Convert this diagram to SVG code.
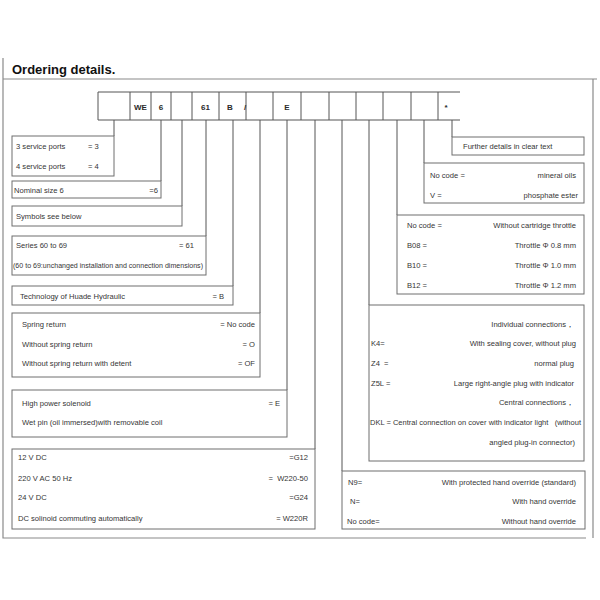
<svg xmlns="http://www.w3.org/2000/svg" width="600" height="600" viewBox="0 0 600 600">
<style>
.bg{fill:#ffffff}
.frame{fill:none;stroke:#8a8a8a;stroke-width:1.2}
.box{fill:#ffffff;stroke:#6e6e6e;stroke-width:1}
.ln{stroke:#555555;stroke-width:1;fill:none}
.t{font-family:"Liberation Sans",Arial,sans-serif;font-size:7.6px;fill:#353535}
.e{text-anchor:end}
.c{font-family:"Liberation Sans",Arial,sans-serif;font-size:8px;fill:#2a2a2a;text-anchor:middle;font-weight:bold}
.title{font-family:"Liberation Sans",Arial,sans-serif;font-size:13px;font-weight:bold;fill:#111111}
</style>
<rect class="bg" x="0" y="0" width="600" height="600"/>
<g id="frame">
<path class="frame" d="M3,58 V538 H586 M3,79 H597 M593,79 V538"/>
<text class="title" x="12" y="74">Ordering details.</text>
</g>
<g id="code-row">
<path class="ln" d="M98,92 H460 M98,120 H460 M98,92 V120 M130,92 V120 M151,92 V120 M171,92 V120 M192,92 V120 M219,92 V120 M246,92 V120 M273,92 V120 M301,92 V120 M329,92 V120 M356,92 V120 M383,92 V120 M411,92 V120 M438,92 V120"/>
<text class="c" x="140.5" y="110">WE</text>
<text class="c" x="161" y="110">6</text>
<text class="c" x="205.5" y="110">61</text>
<text class="c" x="230" y="110">B</text>
<text class="c" x="245" y="110" font-weight="normal">/</text>
<text class="c" x="287" y="110">E</text>
<text class="c" x="446" y="110" font-weight="normal">*</text>
</g>
<g id="connectors">
<path class="ln" d="M114,120 V136 M161,120 V181 M182,120 V206 M206,120 V236 M233,120 V286 M260,120 V313 M287,120 V390 M315,120 V449 M342,120 V471 M369,120 V305 M397,120 V215 M424,120 V163 M452,120 V137"/>
</g>
<g id="ports">
<rect class="box" x="12" y="136" width="102" height="40"/>
<text class="t" x="16" y="149">3 service ports</text><text class="t" x="88" y="149">= 3</text>
<text class="t" x="16" y="169">4 service ports</text><text class="t" x="88" y="169">= 4</text>
</g>
<g id="size">
<rect class="box" x="12" y="181" width="149" height="17"/>
<text class="t" x="14" y="192.5">Nominal size 6</text><text class="t e" x="158" y="192.5">=6</text>
</g>
<g id="symbols">
<rect class="box" x="12" y="206" width="170" height="20"/>
<text class="t" x="16" y="219">Symbols see below</text>
</g>
<g id="series">
<rect class="box" x="12" y="236" width="194" height="39"/>
<text class="t" x="16" y="248">Series 60 to 69</text><text class="t e" x="194" y="248">= 61</text>
<text class="t" x="13" y="268" textLength="190" lengthAdjust="spacingAndGlyphs">(60 to 69:unchanged installation and connection dimensions)</text>
</g>
<g id="technology">
<rect class="box" x="12" y="286" width="221" height="19"/>
<text class="t" x="20" y="298.5">Technology of Huade Hydraulic</text><text class="t e" x="224" y="298.5">= B</text>
</g>
<g id="spring">
<rect class="box" x="12" y="313" width="248" height="64"/>
<text class="t" x="22" y="327">Spring return</text><text class="t e" x="255" y="327">= No code</text>
<text class="t" x="22" y="347">Without spring return</text><text class="t e" x="255" y="347">= O</text>
<text class="t" x="22" y="366">Without spring return with detent</text><text class="t e" x="255" y="366">= OF</text>
</g>
<g id="solenoid">
<rect class="box" x="12" y="390" width="275" height="47"/>
<text class="t" x="22" y="406">High power solenoid</text><text class="t e" x="280" y="406">= E</text>
<text class="t" x="22" y="425">Wet pin (oil immersed)with removable coil</text>
</g>
<g id="voltage">
<rect class="box" x="12" y="449" width="303" height="80"/>
<text class="t" x="18" y="460">12 V DC</text><text class="t e" x="308" y="460">=G12</text>
<text class="t" x="18" y="481">220 V AC 50 Hz</text><text class="t e" x="308" y="481" xml:space="preserve">=  W220-50</text>
<text class="t" x="18" y="500">24 V DC</text><text class="t e" x="308" y="500">=G24</text>
<text class="t" x="18" y="521">DC solinoid commuting automatically</text><text class="t e" x="308" y="521">= W220R</text>
</g>
<g id="further">
<rect class="box" x="452" y="137" width="132" height="18"/>
<text class="t" x="463" y="149">Further details in clear text</text>
</g>
<g id="fluid">
<rect class="box" x="424" y="163" width="160" height="40"/>
<text class="t" x="430" y="178">No code =</text><text class="t e" x="576" y="178">mineral oils</text>
<text class="t" x="430" y="198">V =</text><text class="t e" x="578" y="198">phosphate ester</text>
</g>
<g id="throttle">
<rect class="box" x="397" y="215" width="187" height="79"/>
<text class="t" x="407" y="228">No code =</text><text class="t e" x="576" y="228">Without cartridge throttle</text>
<text class="t" x="407" y="248">B08 =</text><text class="t e" x="576" y="248">Throttle Φ 0.8 mm</text>
<text class="t" x="407" y="268">B10 =</text><text class="t e" x="576" y="268">Throttle Φ 1.0 mm</text>
<text class="t" x="407" y="288">B12 =</text><text class="t e" x="576" y="288">Throttle Φ 1.2 mm</text>
</g>
<g id="connections">
<rect class="box" x="369" y="305" width="215" height="156"/>
<text class="t e" x="574" y="327">Individual connections，</text>
<text class="t" x="371" y="346">K4=</text><text class="t e" x="576" y="346">With sealing cover, without plug</text>
<text class="t" x="371" y="366" xml:space="preserve">Z4  =</text><text class="t e" x="574" y="366">normal plug</text>
<text class="t" x="371" y="386">Z5L =</text><text class="t e" x="574" y="386">Large right-angle plug with indicator</text>
<text class="t e" x="574" y="405">Central connections，</text>
<text class="t" x="370" y="425" textLength="211" lengthAdjust="spacingAndGlyphs" xml:space="preserve">DKL = Central connection on cover with indicator light   (without</text>
<text class="t e" x="575" y="445">angled plug-in connector)</text>
</g>
<g id="override">
<rect class="box" x="342" y="471" width="243" height="58"/>
<text class="t" x="348" y="485">N9=</text><text class="t e" x="576" y="485">With protected hand override (standard)</text>
<text class="t" x="350" y="504">N=</text><text class="t e" x="576" y="504">With hand override</text>
<text class="t" x="347" y="524">No code=</text><text class="t e" x="576" y="524">Without hand override</text>
</g>
</svg>
